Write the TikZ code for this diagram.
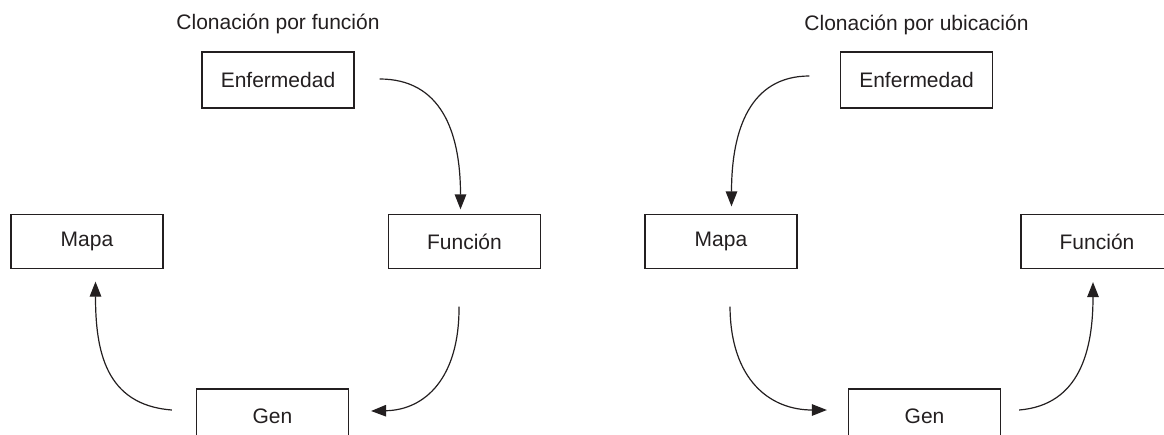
\documentclass[tikz,border=0pt]{standalone}
\usepackage{fontspec}
\setmainfont{Liberation Sans}
\usetikzlibrary{arrows.meta,calc}
\definecolor{ink}{HTML}{231F20}
\begin{document}
\begin{tikzpicture}[x=1pt,y=-1pt,
  box/.style={draw=ink,line width=1.2pt,minimum width=152pt,minimum height=54pt,inner sep=0pt,text=ink,font=\fontsize{21}{25}\selectfont},
  ttl/.style={text=ink,font=\fontsize{21}{25}\selectfont,inner sep=0pt},
  arr/.style={draw=ink,line width=1.2pt,-{Triangle[length=15pt,width=11.5pt]}}]
\useasboundingbox (0,0) rectangle (1164,434);
% left panel
\node[ttl] (T1) at (278,24) {Clonación por función};
\node[box,minimum height=56pt] (Enf1) at (278,80) {Enfermedad};
\node[box] (Map1) at (87,241.5) {Mapa};
\node[box] (Fun1) at (464.5,241.5) {Función};
\node[box] (Gen1) at (272.5,416) {Gen};
\draw[arr] ($(Enf1.east)+(25,-1)$) .. controls (440,79) and (460.5,130) .. ($(Fun1.north)+(-4,-4.5)$);
\draw[arr] ($(Fun1.south)+(-5.5,37.5)$) .. controls (459.5,378) and (425,410) .. ($(Gen1.east)+(22,-5)$);
\draw[arr] ($(Gen1.west)+(-24,-6)$) .. controls (105,405) and (95.5,350) .. ($(Map1.south)+(8.5,12.5)$);
% right panel
\node[ttl] (T2) at (916.5,25) {Clonación por ubicación};
\node[box,minimum height=56pt] (Enf2) at (916.5,80) {Enfermedad};
\node[box] (Map2) at (721,241.5) {Mapa};
\node[box] (Fun2) at (1097,241.5) {Función};
\node[box] (Gen2) at (924.5,416) {Gen};
\draw[arr] ($(Enf2.west)+(-30.5,-4)$) .. controls (750,76) and (731.5,130) .. ($(Map2.north)+(10.5,-7.5)$);
\draw[arr] ($(Map2.south)+(9,37.5)$) .. controls (730.5,380) and (770,410) .. ($(Gen2.west)+(-21,-6)$);
\draw[arr] ($(Gen2.east)+(18,-6)$) .. controls (1080,405) and (1093,350) .. ($(Fun2.south)+(-4,13)$);
\end{tikzpicture}
\end{document}
